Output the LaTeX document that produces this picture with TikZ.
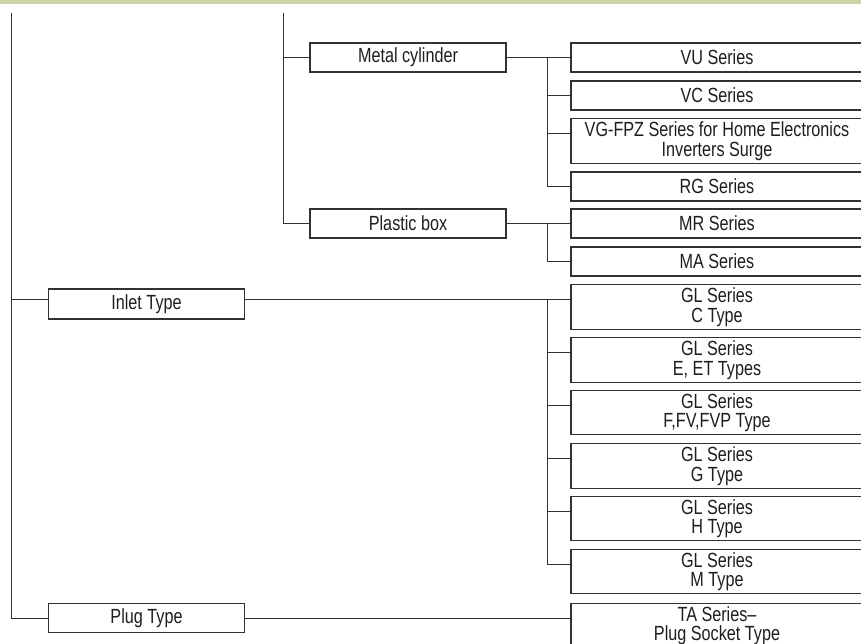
\documentclass[tikz,border=0pt]{standalone}
\usepackage{fontspec}
\setmainfont{Liberation Sans}[FakeStretch=0.79]
\definecolor{barg}{RGB}{200,212,165}
\definecolor{ln}{RGB}{50,50,50}
\definecolor{tx}{RGB}{30,30,30}
\begin{document}
\begin{tikzpicture}[x=1pt,y=-1pt,
  lbox/.style={draw=ln, line width=1.1pt, fill=white, minimum width=196pt, minimum height=29pt, inner sep=0pt, align=center, text=tx, font=\fontsize{20.5}{19.5}\selectfont},
  rbox/.style={lbox, minimum width=292pt},
  rbox2/.style={rbox, minimum height=44.5pt},
  conn/.style={draw=ln, line width=1pt}]
\useasboundingbox (0,0) rectangle (861,644);
\clip (0,0) rectangle (861,644);
\fill[barg] (0,0) rectangle (861,4.5);
% coordinates
\coordinate (top1) at (11,13);
\coordinate (top2) at (283,13);
\coordinate (b1) at (547,57.5);
\coordinate (b2) at (547,223.5);
\coordinate (b3) at (547,299.5);
% left boxes
\node[lbox] (metal) at (408,57.5) {Metal cylinder};
\node[lbox] (plastic) at (408,223.5) {Plastic box};
\node[lbox, minimum height=30pt] (inlet) at (146.5,304) {Inlet Type};
\node[lbox] (plug) at (146.5,618) {Plug Type};
% right boxes
\node[rbox] (vu) at (717,57.5) {VU Series};
\node[rbox] (vc) at (717,95.5) {VC Series};
\node[rbox2] (vg) at (717,141) {VG-FPZ Series for Home Electronics\\Inverters Surge};
\node[rbox] (rg) at (717,186.5) {RG Series};
\node[rbox] (mr) at (717,223.5) {MR Series};
\node[rbox] (ma) at (717,261.5) {MA Series};
\node[rbox2] (gc) at (717,307) {GL Series\\C Type};
\node[rbox2] (ge) at (717,360) {GL Series\\E, ET Types};
\node[rbox2] (gf) at (717,412.5) {GL Series\\F,FV,FVP Type};
\node[rbox2] (gg) at (717,466) {GL Series\\G Type};
\node[rbox2] (gh) at (717,518.5) {GL Series\\H Type};
\node[rbox2] (gm) at (717,571.5) {GL Series\\M Type};
\node[rbox2] (ta) at (717,625.5) {TA Series--\\Plug Socket Type};
% trunk connectors
\draw[conn] (top1) |- (plug.west);
\draw[conn] ([yshift=4.5pt]inlet.west) -| (top1);
\draw[conn] (top2) |- (plastic.west);
\draw[conn] (metal.west) -| (top2);
% metal cylinder
\draw[conn] (metal.east) -- (vu.west);
\draw[conn] (vc.west) -| (b1);
\draw[conn] ([yshift=7.5pt]vg.west) -| (b1);
\draw[conn] (rg.west) -| (b1);
% plastic box
\draw[conn] (plastic.east) -- (mr.west);
\draw[conn] (ma.west) -| (b2);
% inlet
\draw[conn] ([yshift=4.5pt]inlet.east) -- ([yshift=7.5pt]gc.west);
\draw[conn] ([yshift=7.5pt]ge.west) -| (b3);
\draw[conn] ([yshift=7.5pt]gf.west) -| (b3);
\draw[conn] ([yshift=7.5pt]gg.west) -| (b3);
\draw[conn] ([yshift=7.5pt]gh.west) -| (b3);
\draw[conn] ([yshift=7.5pt]gm.west) -| (b3);
% plug
\draw[conn] (plug.east) -- ([yshift=7.5pt]ta.west);
\end{tikzpicture}
\end{document}
